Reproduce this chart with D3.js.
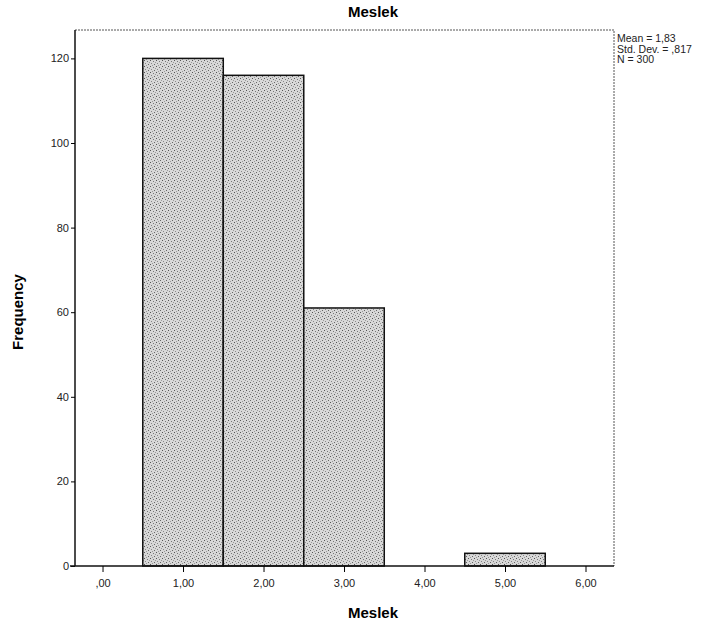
<!DOCTYPE html>
<html>
<head>
<meta charset="utf-8">
<script src="https://cdn.jsdelivr.net/npm/d3@7"></script>
<style>
  html, body { margin: 0; padding: 0; background: #fff; }
  svg text { font-family: "Liberation Sans", Arial, sans-serif; }
</style>
</head>
<body>
<svg id="chart" width="720" height="632"></svg>
<script>
// Histogram of "Meslek" (occupation codes), N = 300
const binStarts = [0.5, 1.5, 2.5, 3.5, 4.5];
const binEnds   = [1.5, 2.5, 3.5, 4.5, 5.5];
const counts    = [120, 116, 61, 0, 3];
const xTicks    = [0, 1, 2, 3, 4, 5, 6];
const yTicks    = [0, 20, 40, 60, 80, 100, 120];
const statLines = ["Mean = 1,83", "Std. Dev. = ,817", "N = 300"];

const svg = d3.select("#chart");
const plotL = 75, plotR = 614, plotT = 30, plotB = 566;

const x = d3.scaleLinear().domain([-0.342, 6.354]).range([plotL, plotR]);
const y = d3.scaleLinear().domain([0, 120]).range([plotB, 58.4]);

// scattered-dot fill texture used by the bars
const dotSpots = [[0, 0, "#555"], [3, 1, "#777"], [1, 3, "#888"], [4, 4, "#666"], [5, 2, "#999"], [2, 5, "#999"]];
const defs = svg.append("defs");
const pat = defs.append("pattern")
  .attr("id", "stipple").attr("patternUnits", "userSpaceOnUse")
  .attr("width", 6).attr("height", 6);
pat.append("rect").attr("width", 6).attr("height", 6).attr("fill", "#d8d8d8");
pat.selectAll("rect.dot").data(dotSpots).join("rect").attr("class", "dot")
  .attr("x", d => d[0]).attr("y", d => d[1]).attr("width", 1).attr("height", 1).attr("fill", d => d[2]);

// plot frame (top and right edges)
svg.append("path")
  .attr("d", `M${plotL},${plotT}H${plotR}V${plotB}`)
  .attr("fill", "none").attr("stroke", "#555").attr("stroke-width", 1)
  .attr("stroke-dasharray", "2,1");

// bars
const bins = counts.map((c, i) => ({ x0: binStarts[i], x1: binEnds[i], n: c }));
svg.append("g").selectAll("rect")
  .data(bins.filter(d => d.n > 0))
  .join("rect")
  .attr("x", d => x(d.x0))
  .attr("y", d => y(d.n))
  .attr("width", d => x(d.x1) - x(d.x0))
  .attr("height", d => y(0) - y(d.n))
  .attr("fill", "url(#stipple)")
  .attr("stroke", "#111").attr("stroke-width", 1.5);

// y axis
const yAxis = svg.append("g").attr("transform", `translate(${plotL},0)`)
  .call(d3.axisLeft(y).tickValues(yTicks).tickSize(4).tickPadding(2).tickFormat(d3.format("d")));
yAxis.select(".domain").attr("d", `M0,${plotT}V${plotB}`).attr("stroke", "#111").attr("stroke-width", 1.5);
yAxis.selectAll("text").attr("font-size", 11).attr("fill", "#222");

// x axis
const fmt = d => d === 0 ? ",00" : d.toFixed(2).replace(".", ",");
const xAxis = svg.append("g").attr("transform", `translate(0,${plotB})`)
  .call(d3.axisBottom(x).tickValues(xTicks).tickSize(6).tickPadding(7).tickFormat(fmt));
xAxis.select(".domain").attr("d", `M${plotL - 5},0H${plotR}`).attr("stroke", "#111").attr("stroke-width", 1.5);
xAxis.selectAll("text").attr("font-size", 11).attr("fill", "#222");

// titles
svg.append("text").attr("x", 373).attr("y", 17).attr("text-anchor", "middle")
  .attr("font-size", 15).attr("font-weight", "bold").text("Meslek");
svg.append("text").attr("x", 373).attr("y", 618).attr("text-anchor", "middle")
  .attr("font-size", 15).attr("font-weight", "bold").text("Meslek");
svg.append("text").attr("transform", "translate(23,312) rotate(-90)").attr("text-anchor", "middle")
  .attr("font-size", 15).attr("font-weight", "bold").text("Frequency");

// summary statistics
svg.append("g").selectAll("text").data(statLines).join("text")
  .attr("x", 617).attr("y", (d, i) => 42 + i * 10.5)
  .attr("font-size", 10.5).attr("fill", "#222").text(d => d);
</script>
</body>
</html>
